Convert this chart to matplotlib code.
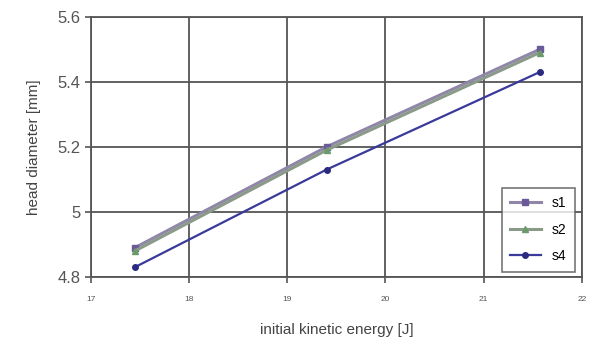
import matplotlib
matplotlib.use('Agg')
import matplotlib.pyplot as plt

energy = [17.45, 19.4, 21.57]
s1 = [4.89, 5.20, 5.50]
s2 = [4.88, 5.19, 5.49]
s4 = [4.83, 5.13, 5.43]
xticks = [17, 18, 19, 20, 21, 22]
yticks = [4.8, 5.0, 5.2, 5.4, 5.6]
ylabels = ['4.8', '5', '5.2', '5.4', '5.6']

plt.rcParams['font.family'] = ['Liberation Sans', 'DejaVu Sans']

fig = plt.figure(figsize=(6.06, 3.6), dpi=100)
ax = fig.add_axes([0.150, 0.231, 0.810, 0.722])

ax.plot(energy, s1, color='#8f86a8', lw=2.2, marker='s', ms=4, mfc='#6a5a9a', mec='#6a5a9a', label='s1')
ax.plot(energy, s2, color='#8a9a88', lw=2.2, marker='^', ms=4, mfc='#6a9a6a', mec='#6a9a6a', label='s2')
ax.plot(energy, s4, color='#3a3a9a', lw=1.6, marker='o', ms=4, mfc='#2a2a80', mec='#2a2a80', label='s4')

ax.set_xlim(17, 22)
ax.set_ylim(4.8, 5.6)
ax.set_xticks(xticks)
ax.set_yticks(yticks)
ax.set_yticklabels(ylabels)
ax.tick_params(axis='x', labelsize=6, colors='#555555', length=4, width=1.2, pad=10)
ax.tick_params(axis='y', labelsize=12, colors='#555555', length=4, width=1.2)
ax.grid(True, color='#555555', lw=1.3)
for sp in ax.spines.values():
    sp.set_color('#555555')
    sp.set_linewidth(1.3)

ax.set_xlabel('initial kinetic energy [J]', fontsize=11, color='#444444', labelpad=14)
ax.set_ylabel('head diameter [mm]', fontsize=11, color='#444444', labelpad=12)

leg = ax.legend(loc='lower right', fontsize=10, frameon=True, fancybox=False,
                edgecolor='#555555', handlelength=2.2, borderpad=0.6, labelspacing=0.9,
                borderaxespad=0, bbox_to_anchor=(0.986, 0.02))
leg.get_frame().set_linewidth(1.2)

fig.savefig('out.png', dpi=100)
